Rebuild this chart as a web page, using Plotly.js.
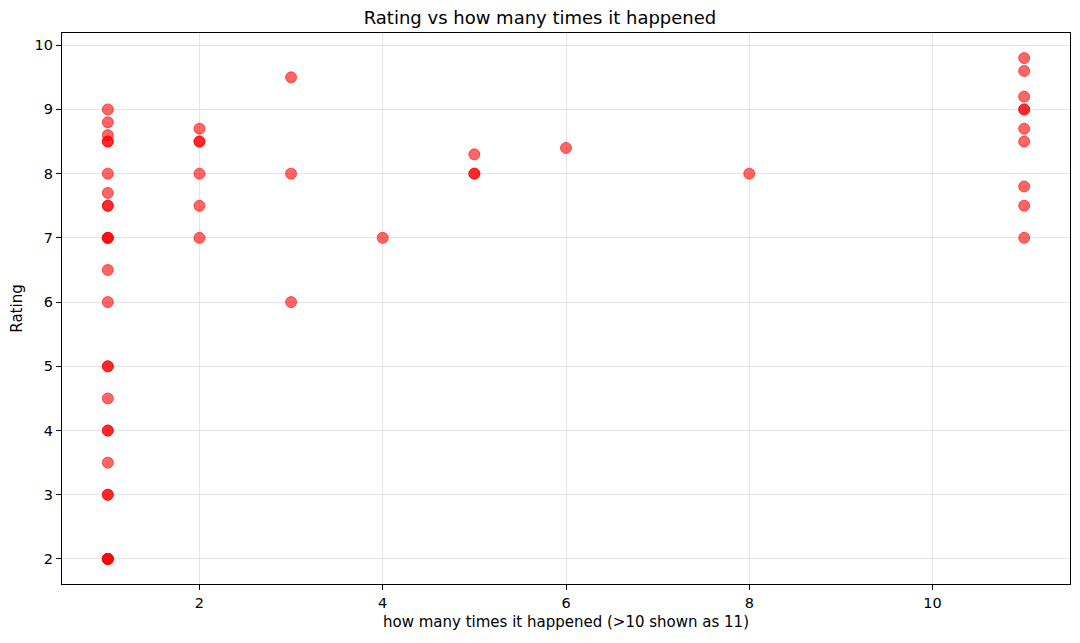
<!DOCTYPE html>
<html>
<head>
<meta charset="utf-8">
<script src="https://cdn.plot.ly/plotly-3.0.1.min.js"></script>
<style>
  html, body { margin: 0; padding: 0; background: #fff; }
  #chart { width: 1080px; height: 643px; }
</style>
</head>
<body>
<div id="chart"></div>
<script>
// how many times it happened (>10 shown as 11), one entry per point
const timesHappened = [
    1, 1, 1, 1, 1, 1, 1, 1, 1, 1, 1, 1, 1, 1, 1, 1, 1, 1, 1, 1, 1, 1, 1, 1, 1, 1,
    2, 2, 2, 2, 2, 2,
    3, 3, 3,
    4,
    5, 5, 5,
    6,
    8,
    11, 11, 11, 11, 11, 11, 11, 11, 11, 11
];
const ratings = [
    9.0, 8.8, 8.6, 8.5, 8.5, 8.0, 7.7, 7.5, 7.5, 7.0, 7.0, 7.0, 6.5, 6.0,
    5.0, 5.0, 4.5, 4.0, 4.0, 3.5, 3.0, 3.0, 2.0, 2.0, 2.0, 2.0,
    8.7, 8.5, 8.5, 8.0, 7.5, 7.0,
    9.5, 8.0, 6.0,
    7.0,
    8.3, 8.0, 8.0,
    8.4,
    8.0,
    9.8, 9.6, 9.2, 9.0, 9.0, 8.7, 8.5, 7.8, 7.5, 7.0
];
const xTicks = [2, 4, 6, 8, 10];
const yTicks = [2, 3, 4, 5, 6, 7, 8, 9, 10];

const font = { family: 'DejaVu Sans, sans-serif', color: '#000' };

const trace = {
    x: timesHappened,
    y: ratings,
    type: 'scatter',
    mode: 'markers',
    marker: {
        size: 11,
        color: 'rgba(255,0,0,0.6)',
        line: { color: 'rgba(255,0,0,0.6)', width: 1 }
    },
    hoverinfo: 'x+y',
    showlegend: false
};

const axisCommon = {
    showline: true,
    linecolor: '#000',
    linewidth: 1.3,
    mirror: true,
    ticks: 'outside',
    ticklen: 5,
    tickwidth: 1.2,
    tickcolor: '#000',
    showgrid: true,
    gridcolor: '#e4e4e4',
    gridwidth: 1,
    zeroline: false,
    tickfont: { ...font, size: 14.5 }
};

const layout = {
    width: 1080,
    height: 643,
    paper_bgcolor: '#fff',
    plot_bgcolor: '#fff',
    margin: { l: 62, r: 10, t: 33, b: 59 },
    font,
    title: {
        text: 'Rating vs how many times it happened',
        font: { ...font, size: 18 },
        x: 0.5,
        xanchor: 'center',
        y: 0.972,
        yanchor: 'middle'
    },
    xaxis: {
        ...axisCommon,
        range: [0.5, 11.5],
        tickvals: xTicks,
        ticktext: xTicks.map(String),
        title: { text: 'how many times it happened (>10 shown as 11)', font: { ...font, size: 15 }, standoff: 6 }
    },
    yaxis: {
        ...axisCommon,
        range: [1.61, 10.19],
        tickvals: yTicks,
        ticktext: yTicks.map(String),
        title: { text: 'Rating', font: { ...font, size: 15 }, standoff: 8 }
    }
};

Plotly.newPlot('chart', [trace], layout, { displayModeBar: false, responsive: false });
</script>
</body>
</html>
